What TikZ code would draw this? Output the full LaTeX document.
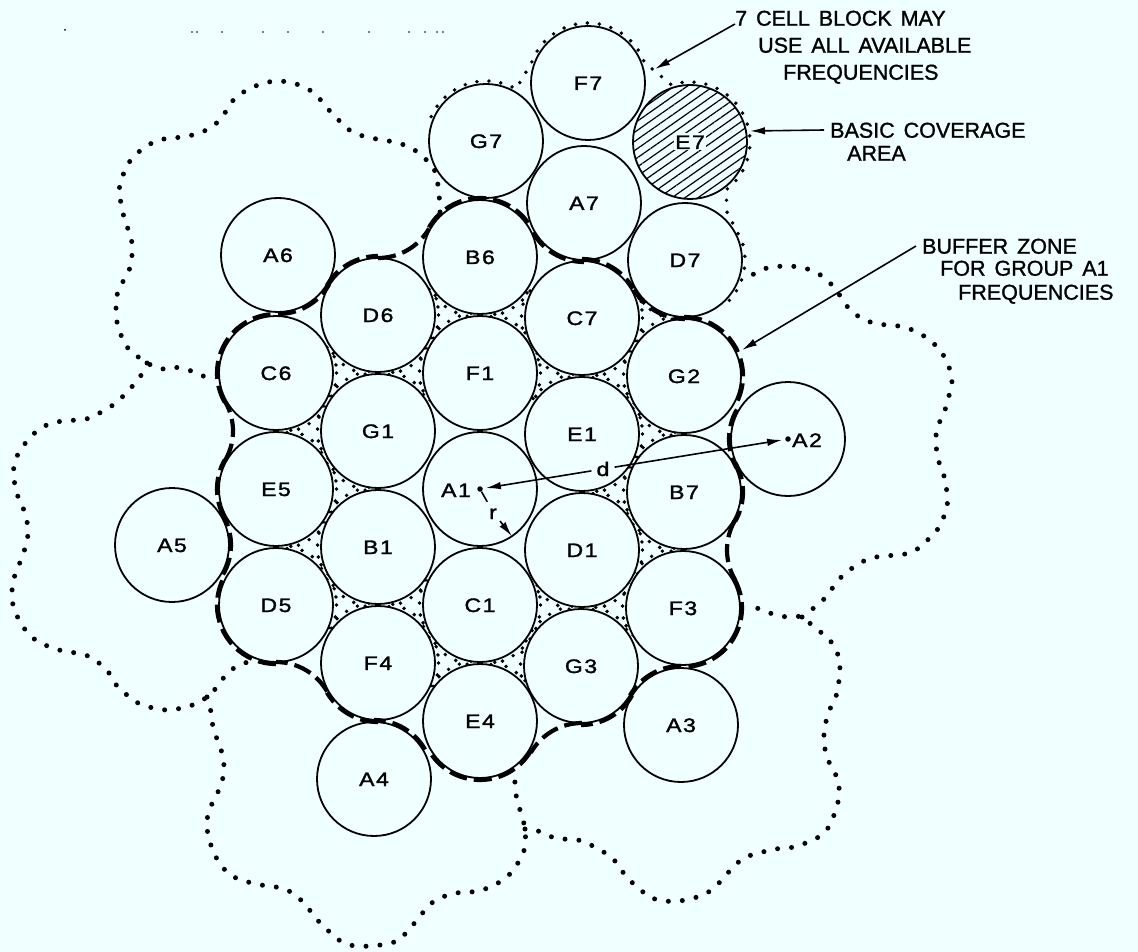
\documentclass[tikz,border=0pt]{standalone}
\usepackage{fontspec}
\setmainfont{Liberation Sans}[WordSpace=1.5,FakeBold=1.2]
\newfontfamily\lblfont[FakeStretch=1.18,LetterSpace=8,FakeBold=1.6]{Liberation Sans}
\usetikzlibrary{arrows.meta,patterns.meta,calc}
\definecolor{bg}{RGB}{240,255,255}
\pgfdeclarelayer{bottom}
\pgfdeclarelayer{behind}
\pgfsetlayers{bottom,behind,main}
\newcommand\interst[3]{%
  \begin{scope}
    \clip (#1.center)--(#2.center)--(#3.center)--cycle;
    \draw[beads] (#1.center) circle[radius=60.5] (#2.center) circle[radius=60.5] (#3.center) circle[radius=60.5];
  \end{scope}}
\newcommand\barc[3]{\draw[buffer] (#1.center) ++(#2:59) arc[start angle=#2,end angle=#3,radius=59];}
\begin{document}
\begin{tikzpicture}[x=1pt,y=-1pt,
  cell/.style={circle,draw,fill=bg,line width=1.8pt,minimum size=114pt,inner sep=0pt,outer sep=0pt,
    font=\lblfont\fontsize{19.5}{19.5}\selectfont,text height=14pt,text depth=0pt},
  lbl/.style={inner sep=0pt,font=\lblfont\fontsize{19.5}{19.5}\selectfont,text height=14pt,text depth=0pt},
  beads/.style={line width=3.9pt,line cap=round,dash pattern=on 0pt off 12pt},
  bigdots/.style={line width=5pt,line cap=round,dash pattern=on 0pt off 14pt},
  buffer/.style={line width=4.2pt,dash pattern=on 18pt off 7pt},
  callout/.style={anchor=west,inner sep=0pt,font=\fontsize{21.5}{26}\selectfont,text height=15.4pt,text depth=0pt},
  ptr/.style={line width=1.6pt,-{Latex[length=15pt,width=7.5pt]}},
  dot/.style={circle,fill,inner sep=0pt,minimum size=5.5pt}
]
\useasboundingbox (0,0) rectangle (1138,952);
\begin{pgfonlayer}{bottom}
\fill[bg] (0,0) rectangle (1138,952);
\end{pgfonlayer}

% scan specks
\foreach \x in {192,197,222,263,288,323,369,409,425,437,443} \fill (\x,32) circle[radius=0.9];
\fill (65,30) circle[radius=1];

% ---- cells ----
\node[cell] (A1) at (480,489) {};
\node[cell] (F1) at (480,373) {F1};
\node[cell] (E1) at (582,434) {E1};
\node[cell] (D1) at (582,550) {D1};
\node[cell] (C1) at (480,605) {C1};
\node[cell] (B1) at (378,547) {B1};
\node[cell] (G1) at (378,431) {G1};
\node[cell] (C7) at (582,318) {C7};
\node[cell] (B6) at (480,257) {B6};
\node[cell] (D6) at (378,315) {D6};
\node[cell] (C6) at (276,373) {C6};
\node[cell] (E5) at (276,489) {E5};
\node[cell] (D5) at (276,605) {D5};
\node[cell] (F4) at (378,663) {F4};
\node[cell] (E4) at (480,721) {E4};
\node[cell] (G3) at (581,666) {G3};
\node[cell] (F3) at (683,608) {F3};
\node[cell] (B7) at (684,492) {B7};
\node[cell] (G2) at (684,376) {G2};
\node[cell] (D7) at (685,260) {D7};
\node[cell] (A7) at (584,203) {A7};
\node[cell] (G7) at (486,141) {G7};
\node[cell] (F7) at (588,83) {F7};
\node[cell,preaction={fill=bg},pattern={Lines[angle=35,distance=7.5pt,line width=1.2pt]}] (E7) at (690,142) {};
\node[lbl,fill=bg,inner sep=1.5pt] (E7l) at (E7.center) {E7};
\node[cell] (A2) at (788,439) {};
\node[cell] (A3) at (681,725) {A3};
\node[cell] (A4) at (374,779) {A4};
\node[cell] (A5) at (172,545) {A5};
\node[cell] (A6) at (278,255) {A6};

% empty lattice places used by the buffer outline
\coordinate (Z4) at (786,550);
\coordinate (Z6) at (582,782);
\coordinate (Z8) at (276,721);
\coordinate (Z10) at (174,431);
\coordinate (Z12) at (378,199);

\begin{pgfonlayer}{behind}
% ---- dotted block boundaries (interstices) ----
\interst{F1}{B6}{C7}
\interst{F1}{C7}{E1}
\interst{E1}{C7}{G2}
\interst{E1}{G2}{B7}
\interst{E1}{B7}{D1}
\interst{D1}{B7}{F3}
\interst{D1}{F3}{G3}
\interst{D1}{G3}{C1}
\interst{C1}{G3}{E4}
\interst{C1}{E4}{F4}
\interst{C1}{F4}{B1}
\interst{B1}{F4}{D5}
\interst{B1}{D5}{E5}
\interst{B1}{E5}{G1}
\interst{G1}{E5}{C6}
\interst{G1}{C6}{D6}
\interst{G1}{D6}{F1}
\interst{F1}{D6}{B6}
\interst{C7}{D7}{G2}

% outline of the 7 cell block round A7
\draw[beads] (G7.center) ++(204:60) arc[start angle=204,end angle=300,radius=60]
  -- ($(F7.center)+(200:60)$) arc[start angle=200,end angle=340,radius=60]
  -- ($(E7.center)+(252:60)$) arc[start angle=252,end angle=413,radius=60]
  -- (727,212) -- ($(D7.center)+(-18:60)$) arc[start angle=-18,end angle=49,radius=60];
\end{pgfonlayer}

% ---- buffer zone ----
\barc{B6}{210}{330}
\barc{A7}{150}{90}
\barc{C7}{270}{330}
\barc{D7}{150}{90}
\barc{G2}{270}{390}
\barc{A2}{210}{150}
\barc{B7}{330}{390}
\barc{Z4}{210}{150}
\barc{F3}{330}{450}
\barc{A3}{270}{210}
\barc{G3}{30}{90}
\barc{Z6}{270}{210}
\barc{E4}{30}{150}
\barc{A4}{330}{270}
\barc{F4}{90}{150}
\barc{Z8}{330}{270}
\barc{D5}{90}{210}
\barc{A5}{30}{-30}
\barc{E5}{150}{210}
\barc{Z10}{30}{-30}
\barc{C6}{150}{270}
\barc{A6}{90}{30}
\barc{D6}{210}{270}
\barc{Z12}{90}{30}

% ---- outlines of the neighbouring blocks ----
\draw[bigdots] plot[smooth,tension=0.5] coordinates {(440,212) (439,193) (437,180) (433,167) (422,156) (410,147) (397,143) (384,140) (371,138) (357,134) (345,127) (336,117) (327,108) (318,97) (308,89) (293,83) (278,81) (264,83) (251,88) (239,95) (230,104) (223,116) (212,127) (199,133) (184,137) (170,138) (156,141) (144,148) (133,157) (126,168) (121,181) (119,193) (122,207) (125,222) (131,236) (132,251) (131,265) (125,278) (118,291) (116,307) (117,322) (121,335) (127,347) (137,356) (147,363) (161,369) (173,367) (188,370) (202,375) (212,385)};
\draw[bigdots] plot[smooth,tension=0.5] coordinates {(147,363) (143,372) (137,381) (126,393) (116,403) (103,411) (90,418) (77,420) (63,421) (49,424) (37,431) (28,440) (19,452) (14,466) (14,479) (17,494) (22,505) (26,517) (28,529) (27,542) (23,554) (19,565) (14,578) (12,591) (13,605) (19,620) (27,632) (37,641) (50,647) (63,651) (76,653) (88,656) (99,663) (109,673) (117,686) (127,695) (138,703) (153,708) (167,710) (182,708) (195,704) (207,697) (217,687) (225,676) (234,668) (245,663) (257,659)};
\draw[bigdots] plot[smooth,tension=0.5] coordinates {(207,697) (211,712) (213,727) (217,739) (222,753) (224,767) (222,782) (217,794) (211,806) (207,820) (208,835) (212,848) (217,859) (225,870) (236,878) (248,882) (261,885) (276,887) (289,891) (302,901) (312,913) (321,924) (332,934) (342,942) (355,946) (371,946) (386,944) (399,940) (410,928) (419,918) (428,906) (440,898) (456,893) (471,892) (485,889) (498,883) (511,873) (519,861) (525,847) (525,829) (521,813) (517,800) (515,785) (515,770)};
\draw[bigdots] plot[smooth,tension=0.5] coordinates {(525,829) (533,829) (545,834) (558,839) (572,839) (585,842) (598,849) (610,856) (619,866) (627,878) (639,888) (649,897) (665,901) (679,901) (694,898) (707,893) (718,884) (727,874) (735,865) (746,857) (759,853) (775,849) (789,848) (803,844) (817,838) (828,828) (834,815) (838,802) (839,786) (835,773) (828,760) (825,749) (824,732) (827,718) (832,704) (838,691) (839,677) (840,663) (836,650) (828,638) (815,628) (802,617) (787,617) (773,614) (759,609) (746,601)};
\draw[bigdots] plot[smooth,tension=0.5] coordinates {(802,617) (815,607) (825,598) (834,586) (844,574) (854,567) (868,559) (883,556) (898,555) (913,552) (924,543) (935,533) (942,521) (947,507) (947,493) (944,476) (938,459) (936,443) (937,428) (944,413) (948,399) (952,383) (949,367) (942,353) (932,342) (919,333) (904,327) (889,325) (877,324) (863,319) (850,310) (841,297) (832,285) (819,274) (804,268) (787,266) (767,268) (752,275)};

% ---- A1, A2, d and r ----
\node[dot] (a1dot) at (A1.center) {};
\node[dot] (a2dot) at (A2.center) {};
\node[lbl] (a1lbl) at (456,490) {A1};
\node[lbl,anchor=west] (a2lbl) at (792,440) {A2};
\node[lbl,inner sep=5pt] (dl) at (603,469) {d};
\draw[ptr,shorten >=3pt] (dl) -- (a1dot);
\draw[ptr,shorten >=3pt] (dl) -- (a2dot);
\node[lbl,inner sep=3pt] (rl) at (493,512) {r};
\draw[line width=1.6pt] (a1dot) -- (rl);
\draw[ptr] (rl) -- (A1.-56);

% ---- callouts ----
\node[callout] (t1) at (735,18) {7 CELL BLOCK MAY};
\node[callout] (t2) at (758,45) {USE ALL AVAILABLE};
\node[callout] (t3) at (783,72) {FREQUENCIES};
\coordinate (p1) at (655,69);
\draw[ptr] ([yshift=-6pt]t1.west) -- (p1);

\node[callout] (t4) at (830,130) {BASIC COVERAGE};
\node[callout] (t5) at (847,153) {AREA};
\coordinate (p2) at (750,131);
\draw[ptr] ([xshift=-6pt]t4.west) -- (p2);

\node[callout] (t6) at (922,246) {BUFFER ZONE};
\node[callout] (t7) at (940,268) {FOR GROUP A1};
\node[callout] (t8) at (958,292) {FREQUENCIES};
\coordinate (p3) at (742,350);
\draw[ptr] ([xshift=-6pt]t6.west) -- (p3);
\end{tikzpicture}
\end{document}
